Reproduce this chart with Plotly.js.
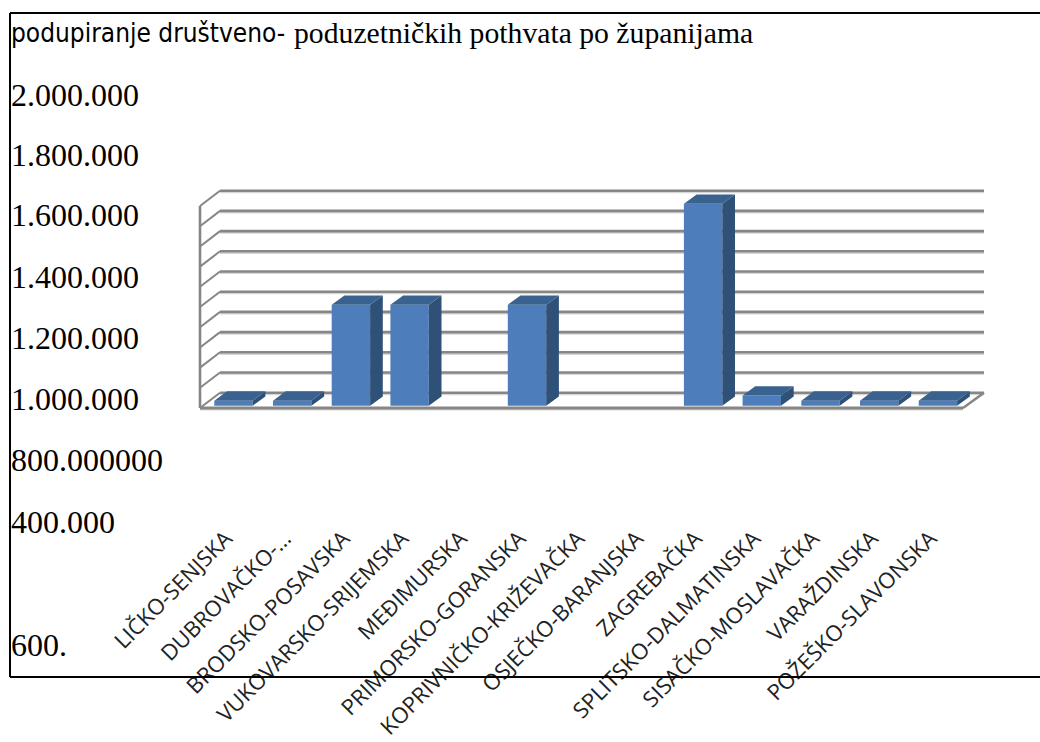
<!DOCTYPE html>
<html><head><meta charset="utf-8">
<script src="https://cdn.plot.ly/plotly-3.0.1.min.js"></script>
<style>html,body{margin:0;padding:0;background:#fff;overflow:hidden}</style>
</head><body><div id="chart" style="width:1040px;height:742px"></div>
<script>
const categories = ["LIČKO-SENJSKA","DUBROVAČKO-…","BRODSKO-POSAVSKA","VUKOVARSKO-SRIJEMSKA","MEĐIMURSKA","PRIMORSKO-GORANSKA","KOPRIVNIČKO-KRIŽEVAČKA","OSJEČKO-BARANJSKA","ZAGREBAČKA","SPLITSKO-DALMATINSKA","SISAČKO-MOSLAVAČKA","VARAŽDINSKA","POŽEŠKO-SLAVONSKA"];
const values = [50000,50000,1000000,1000000,0,1000000,0,0,2000000,100000,50000,50000,50000];
const gridValues = [0,200000,400000,600000,800000,1000000,1200000,1400000,1600000,1800000,2000000];
const yLabels = ["2.000.000","1.800.000","1.600.000","1.400.000","1.200.000","1.000.000","800.000000","400.000","600."];
const yLabelTops = [95,155,215,277,338,399,460,522,645];
const titleSans = "podupiranje društveno-";
const titleSerif = "poduzetničkih pothvata po županijama";

const W=1040,H=742, L=190,R=1000,T=180,B=420;
const PITCH=58.7, X0=233.5, PXV=1.01e-4, Y0=405.7;
const xr=[(L-X0)/PITCH,(R-X0)/PITCH], yr=[(Y0-B)/PXV,(Y0-T)/PXV];
const BW=38.4/PITCH, DX=12.7/PITCH, DY=9.3/PXV;
const px=x=>(x-L)/(R-L), py=y=>(B-y)/(B-T);
const xs=categories.map((_,i)=>i);

const traces=[{type:'bar',x:xs,y:values,width:BW,marker:{color:'#4D7EBB',line:{width:0}},hoverinfo:'skip'}];
const face=(xa,ya,color)=>({type:'scatter',mode:'lines',x:xa,y:ya,fill:'toself',fillcolor:color,line:{width:0,color:color},hoverinfo:'skip'});
xs.forEach(i=>{const v=values[i]; if(!v) return; const a=i-BW/2,b=i+BW/2;
  traces.push(face([b,b+DX,b+DX,b,b],[0,DY,v+DY,v,0],'#2F5178'));
  traces.push(face([a,a+DX,b+DX,b,a],[v,v+DY,v+DY,v,v],'#3A628F'));
});

const GREY='#868686', BX=(220-X0)/PITCH, BX2=(984-X0)/PITCH, FX=(200-X0)/PITCH, FX2=(963-X0)/PITCH;
const FOFF=-23000, BOFF=128700, SH=-1.6/PXV;
const shapes=[];
const ln=(x0,y0,x1,y1,w)=>shapes.push({type:'line',layer:'below',xref:'x',yref:'y',x0,y0,x1,y1,line:{color:GREY,width:w||2.6}});
const sh=(x0,y0,x1,y1)=>shapes.push({type:'line',layer:'below',xref:'x',yref:'y',x0,y0:y0+SH,x1,y1:y1+SH,line:{color:'#D6D6D6',width:2}});
gridValues.forEach(v=>{ sh(BX,v+BOFF,BX2,v+BOFF); });
sh(FX,FOFF,FX2,FOFF);
gridValues.forEach(v=>{
  ln(BX,v+BOFF,BX2,v+BOFF);
  ln(FX,v+FOFF,BX,v+BOFF,2);
});
ln(FX,FOFF,FX,2000000+FOFF);
ln(FX,FOFF,FX2,FOFF,3);
ln(FX2,FOFF,BX2,BOFF);
const frame=(x0,y0,x1,y1)=>shapes.push({type:'line',xref:'paper',yref:'paper',x0:px(x0),y0:py(y0),x1:px(x1),y1:py(y1),line:{color:'#000',width:2}});
frame(10,13,1040,13); frame(10,13,10,677); frame(10,677,1040,677);

const annotations=yLabels.map((t,i)=>({xref:'paper',yref:'paper',x:px(9),y:py(yLabelTops[i]),xanchor:'left',yanchor:'middle',showarrow:false,text:t,font:{family:'Liberation Serif',size:32,color:'#000'}}));
annotations.push({xref:'paper',yref:'paper',x:px(9),y:py(33),xanchor:'left',yanchor:'middle',showarrow:false,text:titleSans,font:{family:'DejaVu Sans Condensed, DejaVu Sans',size:26,color:'#000'}});
annotations.push({xref:'paper',yref:'paper',x:px(292),y:py(33),xanchor:'left',yanchor:'middle',showarrow:false,text:titleSerif,font:{family:'Liberation Serif',size:29.7,color:'#000'}});

Plotly.newPlot('chart',traces,{
  width:W,height:H,showlegend:false,paper_bgcolor:'#fff',plot_bgcolor:'rgba(0,0,0,0)',
  margin:{l:L,r:W-R,t:T,b:H-B,pad:0},
  xaxis:{type:'linear',range:xr,tickmode:'array',tickvals:xs.map(i=>i-0.13),ticktext:categories,tickangle:-45,ticklen:96,tickcolor:'rgba(0,0,0,0)',showgrid:false,zeroline:false,showline:false,automargin:false,tickfont:{family:'Open Sans',size:22,color:'#222'}},
  yaxis:{range:yr,visible:false,showgrid:false,zeroline:false},
  shapes,annotations
},{staticPlot:true,displayModeBar:false});
</script></body></html>
